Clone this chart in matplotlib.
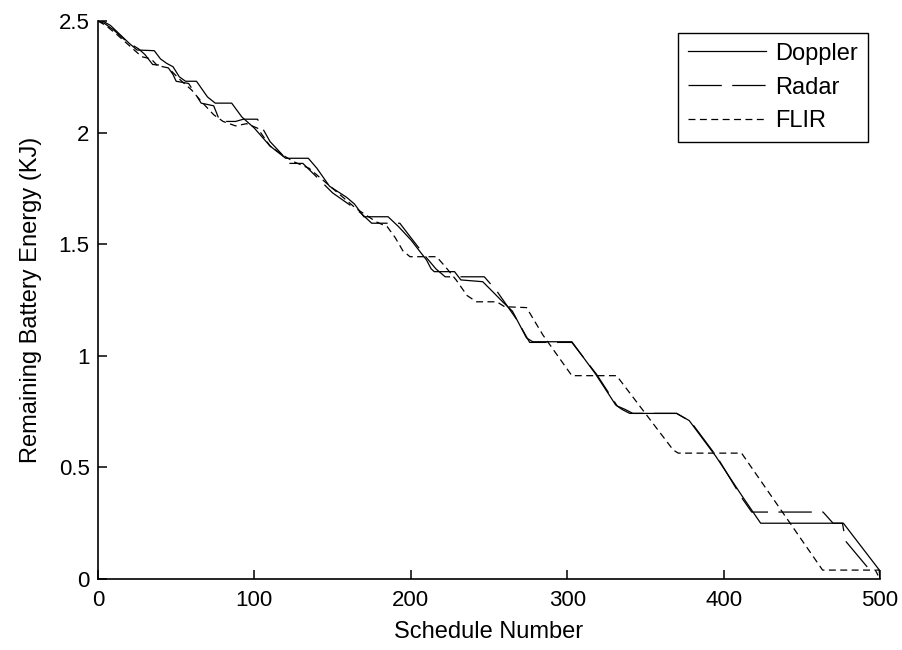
import matplotlib
matplotlib.use("Agg")
import matplotlib.pyplot as plt

# Remaining battery energy (KJ) per schedule for each sensor
doppler_x = [0, 3, 8, 14, 20, 25, 36, 40, 44, 48, 52, 56, 63, 70, 75, 85.5, 92, 100, 110, 120,
             134.5, 140, 148, 159, 164, 170, 185.5, 192, 200, 210, 213, 215, 228, 232, 246, 252,
             259, 265, 274, 278, 303, 318, 331, 335, 340, 370, 378, 395, 412, 423.7, 476.6, 499.6, 500]
doppler_y = [2.50, 2.50, 2.48, 2.44, 2.40, 2.37, 2.367, 2.33, 2.31, 2.295, 2.25, 2.23, 2.23, 2.16,
             2.132, 2.132, 2.07, 2.02, 1.94, 1.885, 1.885, 1.84, 1.76, 1.71, 1.68, 1.623, 1.623,
             1.58, 1.52, 1.43, 1.39, 1.377, 1.377, 1.34, 1.332, 1.29, 1.24, 1.20, 1.08, 1.063, 1.063,
             0.92, 0.78, 0.76, 0.742, 0.742, 0.71, 0.55, 0.37, 0.25, 0.25, 0.04, 0.0]

radar_x = [0, 4, 10, 18, 26, 30, 35, 44, 48, 50, 58, 66, 74, 78, 88, 93, 102, 110, 118, 121, 131,
           140, 150, 161, 168, 175, 193, 200, 210, 216, 222, 230, 240, 247, 255, 262, 268, 276,
           303, 319, 332, 337, 342, 370, 379, 396, 412, 418, 463.6, 470, 476, 478, 493.5, 499.5, 500]
radar_y = [2.50, 2.49, 2.46, 2.41, 2.375, 2.35, 2.305, 2.30, 2.26, 2.23, 2.22, 2.132, 2.12, 2.05,
           2.05, 2.06, 2.06, 1.96, 1.90, 1.862, 1.862, 1.80, 1.73, 1.676, 1.64, 1.594, 1.594, 1.53,
           1.44, 1.39, 1.354, 1.354, 1.354, 1.354, 1.29, 1.22, 1.16, 1.06, 1.06, 0.915, 0.775, 0.76,
           0.742, 0.742, 0.705, 0.545, 0.36, 0.30, 0.30, 0.25, 0.25, 0.17, 0.04, 0.04, 0.0]

flir_x = [0, 5, 12, 20, 28, 34, 38, 45, 52, 60, 66, 74, 80, 88, 95, 102, 110, 118, 125, 135, 145,
          155, 165, 178, 185, 190, 195, 199.5, 216.5, 222, 229, 236, 242, 255, 260, 274, 284.5,
          303, 331.6, 367.8, 371, 411.5, 463.3, 497, 500]
flir_y = [2.50, 2.48, 2.44, 2.39, 2.34, 2.33, 2.30, 2.29, 2.24, 2.19, 2.14, 2.08, 2.05, 2.03,
          2.04, 2.02, 1.94, 1.90, 1.87, 1.84, 1.78, 1.72, 1.66, 1.60, 1.578, 1.53, 1.47, 1.444,
          1.444, 1.40, 1.34, 1.27, 1.242, 1.242, 1.22, 1.216, 1.093, 0.911, 0.911, 0.578, 0.564,
          0.564, 0.04, 0.04, 0.0]

x_ticks = [0, 100, 200, 300, 400, 500]
y_ticks = [0, 0.5, 1, 1.5, 2, 2.5]
y_tick_labels = ["0", "0.5", "1", "1.5", "2", "2.5"]

plt.rcParams["font.family"] = ["Liberation Sans", "DejaVu Sans"]
plt.rcParams["lines.scale_dashes"] = False

fig = plt.figure(figsize=(9.02, 6.5), dpi=100)
ax = fig.add_axes([0.1086, 0.1092, 0.867, 0.8585])

ax.plot(doppler_x, doppler_y, color="black", lw=0.9, ls="-", label="Doppler")
ax.plot(radar_x, radar_y, color="black", lw=0.9, ls=(0, (24, 7.5)), label="Radar")
ax.plot(flir_x, flir_y, color="black", lw=0.9, ls=(0, (5, 3.2)), label="FLIR")

ax.set_xlim(0, 500)
ax.set_ylim(0, 2.5)
ax.set_xticks(x_ticks)
ax.set_xticklabels([str(v) for v in x_ticks])
ax.set_yticks(y_ticks)
ax.set_yticklabels(y_tick_labels)

for side in ("top", "right"):
    ax.spines[side].set_visible(False)
for side in ("left", "bottom"):
    ax.spines[side].set_linewidth(1.2)

ax.tick_params(axis="both", direction="in", length=6.5, width=1.1, labelsize=16, colors="black")
ax.tick_params(axis="x", pad=8)
ax.tick_params(axis="y", pad=6)

ax.set_xlabel("Schedule Number", fontsize=17, labelpad=7)
ax.set_ylabel("Remaining Battery Energy (KJ)", fontsize=17, labelpad=12)

leg = ax.legend(loc="upper right", fontsize=17, frameon=True, fancybox=False,
                edgecolor="black", framealpha=1, handlelength=3.3, handletextpad=0.4,
                labelspacing=0.5, borderpad=0.42, borderaxespad=0.5)
leg.get_frame().set_linewidth(1.0)

fig.savefig("out.png", dpi=100)
